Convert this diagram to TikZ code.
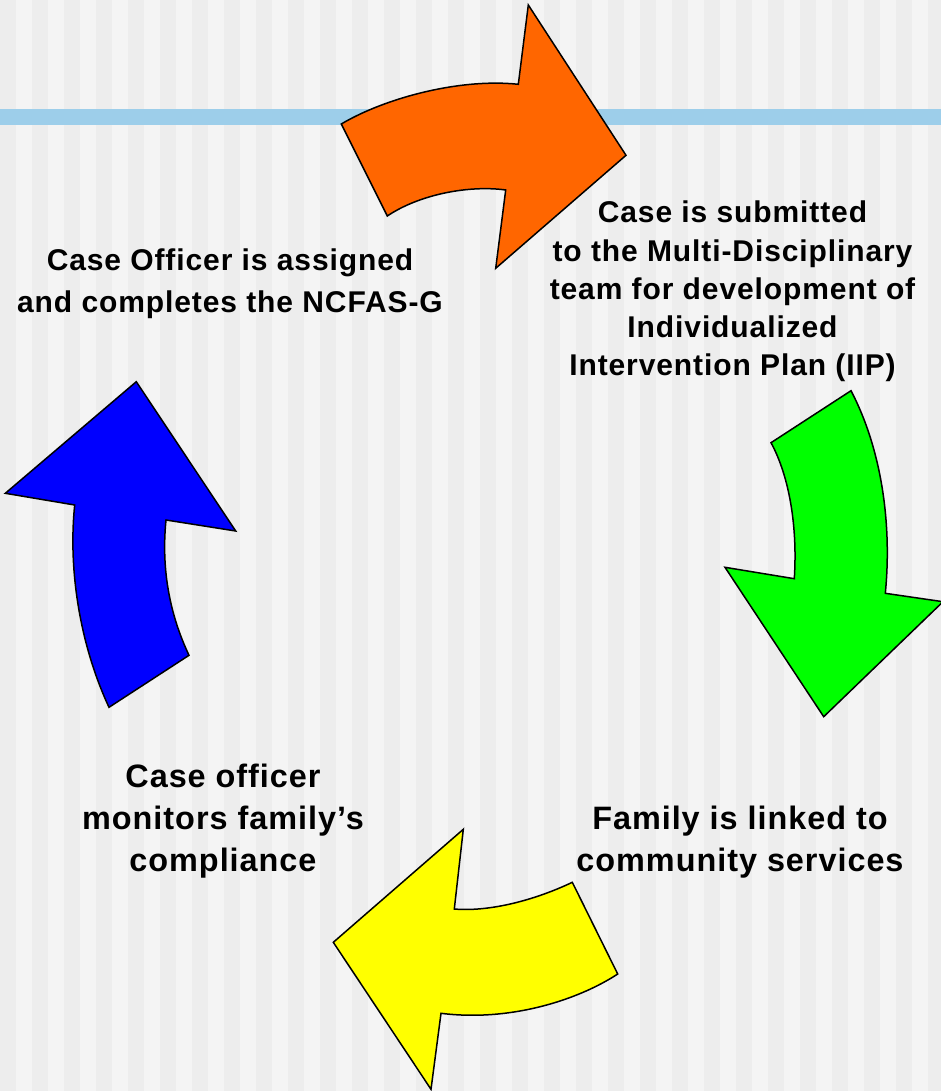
\documentclass[tikz,border=0pt]{standalone}
\usepackage{fontspec}
\newfontfamily\labelfont{Liberation Sans}[LetterSpace=3]
\definecolor{stripedark}{HTML}{EDEDED}
\definecolor{stripelight}{HTML}{F4F4F4}
\definecolor{barblue}{HTML}{99CDEA}
\definecolor{arroworange}{HTML}{FF6600}
\definecolor{arrowgreen}{HTML}{00FF00}
\definecolor{arrowblue}{HTML}{0000FF}
\definecolor{arrowyellow}{HTML}{FFFF00}
\tikzset{
  bigarrow/.style={draw=black, line width=1.5pt, line join=miter},
  steplabel/.style={anchor=north, inner sep=0pt, align=center, text=black},
  smalllabel/.style={steplabel, font={\labelfont\bfseries\fontsize{30}{38.2}\selectfont}},
  widelabel/.style={steplabel, font={\labelfont\bfseries\fontsize{30}{42}\selectfont}},
  largelabel/.style={steplabel, font={\labelfont\bfseries\fontsize{32.4}{42}\selectfont}}
}
\begin{document}
\begin{tikzpicture}[x=1pt, y=-1pt]
\useasboundingbox (0,0) rectangle (941,1091);
% striped backdrop
\fill[stripelight] (0,0) rectangle (941,1091);
\foreach \i in {0,2,...,58} {
  \fill[stripedark] (16*\i,0) rectangle (16*\i+16,1091);
}
% title rule
\fill[barblue, opacity=0.95] (0,109) rectangle (941,125);

% orange: top, pointing right
\draw[bigarrow, fill=arroworange]
  (341.3,124) .. controls (385,98) and (460,78) .. (518.3,84.3)
  -- (528.3,5) -- (626,155.3) -- (495.7,268.3) -- (505.7,190)
  .. controls (470,185) and (420,194) .. (387.3,216) -- cycle;

% green: right, pointing down
\draw[bigarrow, fill=arrowgreen]
  (851,390.7) -- (771,442.7)
  .. controls (787,472) and (798,520) .. (794.3,578.7)
  -- (725,567.3) -- (823.7,716.7) -- (943,601.7) -- (885.3,593.3)
  .. controls (892,525) and (882,450) .. (851,390.7) -- cycle;

% yellow: bottom, pointing left
\draw[bigarrow, fill=arrowyellow]
  (572.3,882.3) -- (617.7,974)
  .. controls (578,1000) and (510,1022) .. (441,1013.3)
  -- (431,1089.3) -- (333.3,942.3) -- (463.3,829.3) -- (454.3,909)
  .. controls (490,912) and (535,900) .. (572.3,882.3) -- cycle;

% blue: left, pointing up
\draw[bigarrow, fill=arrowblue]
  (109,707.3) -- (189,655.3)
  .. controls (170,615) and (161,570) .. (166,520)
  -- (235.7,531) -- (136.3,381.7) -- (5.3,493.3) -- (74.7,505)
  .. controls (68,570) and (80,645) .. (109,707.3) -- cycle;

% step labels
\node[widelabel] (assign) at (230,248.2) {Case Officer is assigned\\and completes the NCFAS-G};
\node[smalllabel] (submit) at (732.5,201) {Case is submitted\\to the Multi-Disciplinary\\team for development of\\Individualized\\Intervention Plan (IIP)};
\node[largelabel] (link) at (740,805.7) {Family is linked to\\community services};
\node[largelabel] (monitor) at (223,763.7) {Case officer\\monitors family’s\\compliance};
\end{tikzpicture}
\end{document}
